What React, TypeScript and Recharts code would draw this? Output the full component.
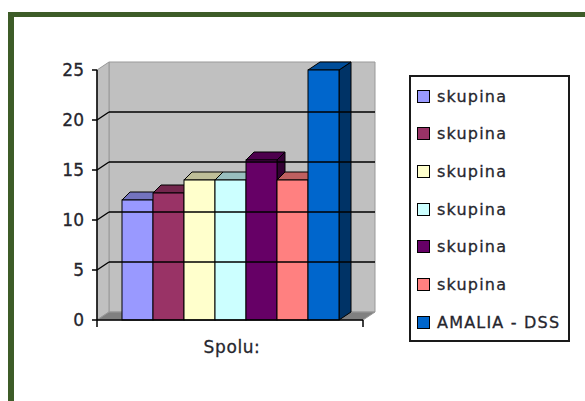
import React from 'react';
import { BarChart, Bar, XAxis, YAxis, Legend, ReferenceArea, ReferenceLine } from 'recharts';

const categories = ['Spolu:'];
const seriesNames = ['skupina', 'skupina', 'skupina', 'skupina', 'skupina', 'skupina', 'AMALIA - DSS'];
const seriesValues = [12, 12.7, 14, 14, 16, 14, 25];
const yTicks = [0, 5, 10, 15, 20, 25];
const gridValues = [5, 10, 15, 20];

const faceColors = ['#9999ff', '#993366', '#ffffcc', '#ccffff', '#660066', '#ff8080', '#0066cc'];
const topColors = ['#7373bf', '#73264d', '#bfbf99', '#99bfbf', '#4d004d', '#bf6060', '#004d99'];
const sideColors = ['#4d4d80', '#4d1a33', '#808066', '#668080', '#330033', '#804040', '#003366'];
const barDepths = [8, 8, 8, 8, 8, 8, 12];

const row: Record<string, string | number> = { name: categories[0] };
seriesValues.forEach((v, i) => {
  row[`s${i}`] = v;
});
const data = [row];

const DX = 12;
const DY = 8;
const font = '"DejaVu Sans", sans-serif';
const textColor = '#26262e';

function Walls(props: any) {
  const { x, y, width, height } = props;
  const r = x + width;
  const b = y + height;
  return (
    <g>
      <polygon points={`${x + DX},${y - DY} ${r + DX},${y - DY} ${r + DX},${b - DY} ${x + DX},${b - DY}`} fill="#c0c0c0" stroke="#999999" />
      <polygon points={`${x},${y} ${x + DX},${y - DY} ${x + DX},${b - DY} ${x},${b}`} fill="#c0c0c0" stroke="#999999" />
      <polygon points={`${x},${b} ${x + DX},${b - DY} ${r + DX},${b - DY} ${r},${b}`} fill="#808080" stroke="#999999" />
      <line x1={x} y1={b} x2={x} y2={b + 7} stroke="#000" strokeWidth={1.5} />
      <line x1={r} y1={b} x2={r} y2={b + 7} stroke="#000" strokeWidth={1.5} />
    </g>
  );
}

function GridLine(props: any) {
  const { x1, x2, y1 } = props;
  return (
    <g>
      <line x1={x1} y1={y1} x2={x1 + DX} y2={y1 - DY} stroke="#000" strokeWidth={1.3} />
      <line x1={x1 + DX} y1={y1 - DY} x2={x2 + DX} y2={y1 - DY} stroke="#000" strokeWidth={1.3} />
    </g>
  );
}

function makeBarShape(i: number) {
  const d = barDepths[i];
  const dy = DY;
  return function BarShape(props: any) {
    const { x, y, width, height } = props;
    const r = x + width;
    const b = y + height;
    return (
      <g stroke="#000" strokeWidth={1}>
        <polygon points={`${r},${y} ${r + d},${y - dy} ${r + d},${b - dy} ${r},${b}`} fill={sideColors[i]} />
        <polygon points={`${x},${y} ${x + d},${y - dy} ${r + d},${y - dy} ${r},${y}`} fill={topColors[i]} />
        <rect x={x} y={y} width={width} height={height} fill={faceColors[i]} />
      </g>
    );
  };
}

function LegendBox(props: any) {
  const items = props.payload || [];
  return (
    <div
      style={{
        width: 157,
        height: 263,
        border: '2px solid #1a1a1a',
        background: '#fff',
        boxSizing: 'content-box',
        position: 'relative',
      }}
    >
      {items.map((item: any, i: number) => (
        <div
          key={i}
          style={{
            position: 'absolute',
            left: 6,
            top: 10 + i * 37.7,
            height: 18,
            display: 'flex',
            alignItems: 'center',
            whiteSpace: 'nowrap',
            fontFamily: font,
            fontSize: 16,
            letterSpacing: 1.2,
            WebkitTextStroke: '0.3px #26262e',
            color: textColor,
          }}
        >
          <span
            style={{
              display: 'inline-block',
              width: 11,
              height: 11,
              border: '1.5px solid #000',
              background: item.color,
              marginRight: 7,
            }}
          />
          {item.value}
        </div>
      ))}
    </div>
  );
}

export default function App() {
  return (
    <div style={{ position: 'absolute', left: 0, top: 0, width: 585, height: 401, background: '#fff', overflow: 'hidden' }}>
      <div
        style={{
          position: 'absolute',
          left: 8,
          top: 12,
          width: 590,
          height: 400,
          borderLeft: '6px solid #3d5c28',
          borderTop: '5px solid #3d5c28',
        }}
      />
      <div style={{ position: 'absolute', left: 0, top: 0 }}>
        <BarChart
          width={585}
          height={401}
          data={data}
          margin={{ top: 70, right: 61, bottom: 51, left: 47 }}
          barCategoryGap={25}
          barGap={0}
        >
          <ReferenceArea y1={0} y2={25} shape={Walls} ifOverflow="visible" />
          {gridValues.map((v) => (
            <ReferenceLine key={v} y={v} shape={GridLine} ifOverflow="visible" />
          ))}
          <XAxis
            dataKey="name"
            height={30}
            tickLine={false}
            axisLine={{ stroke: '#000', strokeWidth: 1.5 }}
            tick={{ fill: textColor, fontSize: 17, fontFamily: font, letterSpacing: 0.6, stroke: textColor, strokeWidth: 0.3, dx: 2 }}
            tickMargin={15}
          />
          <YAxis
            width={50}
            domain={[0, 25]}
            ticks={yTicks}
            interval={0}
            tickSize={5}
            tickLine={{ stroke: '#000', strokeWidth: 1.5 }}
            axisLine={{ stroke: '#000', strokeWidth: 1.5 }}
            tick={{ fill: textColor, fontSize: 17, fontFamily: font, stroke: textColor, strokeWidth: 0.3 }}
            tickMargin={8}
          />
          <Legend
            layout="vertical"
            align="right"
            verticalAlign="top"
            itemSorter={null as any}
            content={<LegendBox />}
            wrapperStyle={{ position: 'absolute', left: 409, top: 75, width: 161, height: 267, right: 'auto', bottom: 'auto' }}
          />
          {seriesNames.map((name, i) => (
            <Bar
              key={i}
              dataKey={`s${i}`}
              name={name}
              fill={faceColors[i]}
              shape={makeBarShape(i)}
              isAnimationActive={false}
            />
          ))}
        </BarChart>
      </div>
    </div>
  );
}
